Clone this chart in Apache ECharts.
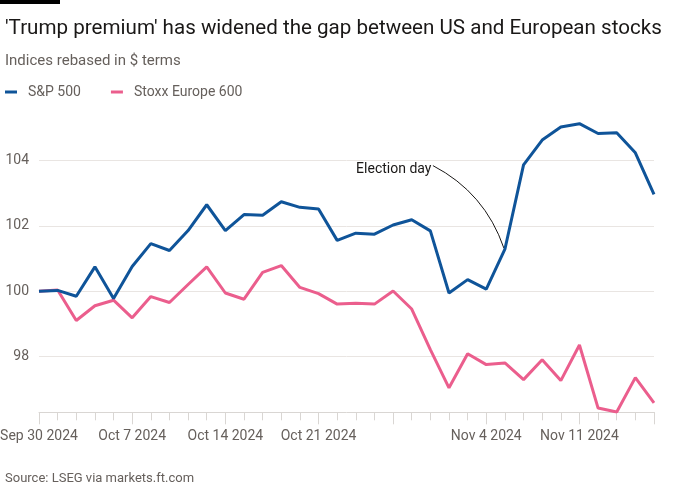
<!DOCTYPE html>
<html>
<head>
<meta charset="utf-8">
<script src="https://cdn.jsdelivr.net/npm/echarts@6/dist/echarts.min.js"></script>
<style>html,body{margin:0;padding:0;background:#fff}#c{width:700px;height:500px}</style>
</head>
<body>
<div id="c"></div>
<script>
const dates = ["Sep 30 2024","Oct 1 2024","Oct 2 2024","Oct 3 2024","Oct 4 2024",
  "Oct 7 2024","Oct 8 2024","Oct 9 2024","Oct 10 2024","Oct 11 2024",
  "Oct 14 2024","Oct 15 2024","Oct 16 2024","Oct 17 2024","Oct 18 2024",
  "Oct 21 2024","Oct 22 2024","Oct 23 2024","Oct 24 2024",
  "Oct 28 2024","Oct 29 2024","Oct 30 2024","Oct 31 2024","Nov 1 2024",
  "Nov 4 2024","Nov 5 2024","Nov 6 2024","Nov 7 2024","Nov 8 2024",
  "Nov 11 2024","Nov 12 2024","Nov 13 2024","Nov 14 2024","Nov 15 2024"];
const sp500 = [100.0,100.03,99.85,100.75,99.78,100.76,101.46,101.25,101.86,102.65,
  101.86,102.35,102.33,102.74,102.57,102.52,101.56,101.78,101.75,102.03,
  102.19,101.85,99.95,100.36,100.07,101.29,103.87,104.63,105.03,105.13,
  104.83,104.85,104.24,102.97];
const stoxx = [100.0,100.04,99.11,99.56,99.73,99.19,99.84,99.66,100.21,100.75,
  99.95,99.76,100.58,100.79,100.12,99.93,99.61,99.64,99.61,100.01,
  99.46,98.22,97.05,98.09,97.76,97.81,97.30,97.91,97.27,98.36,
  96.43,96.31,97.36,96.59];
const labelIdx = [0,5,10,15,24,29];
const majorTickIdx = [0,5,10,15,19,24,29,33];
const electionIdx = 25;
const seriesNames = ["S&P 500","Stoxx Europe 600"];

const FONT = "Roboto";
const GREY = "#66605c";
const chart = echarts.init(document.getElementById('c'), null, {renderer:'canvas'});
const option = {
  animation: false,
  textStyle: {fontFamily: FONT},
  title: [
    {text: "'Trump premium' has widened the gap between US and European stocks", left: 0, top: 13,
     textStyle: {fontFamily: FONT, fontSize: 20.6, fontWeight: 'normal', color: '#1a1817'}},
    {text: "Indices rebased in $ terms", left: 0, top: 49,
     textStyle: {fontFamily: FONT, fontSize: 15, fontWeight: 'normal', color: GREY}},
    {text: "Source: LSEG via markets.ft.com", left: 0, top: 467,
     textStyle: {fontFamily: FONT, fontSize: 13, fontWeight: 'normal', color: GREY}}
  ],
  legend: {
    left: 0, top: 80, itemWidth: 12, itemHeight: 3, itemGap: 30, icon: 'rect',
    data: seriesNames,
    textStyle: {fontFamily: FONT, fontSize: 14, color: GREY, padding: [0,0,0,6]}
  },
  grid: {left: 39, right: 46, top: 111.6, bottom: 87.7, containLabel: false, outerBoundsMode: 'none'},
  xAxis: [
    {type: 'category', data: dates, boundaryGap: false,
     axisLine: {lineStyle: {color: '#d9d6d3', width: 1}},
     axisTick: {show: true, interval: 0, length: 8, lineStyle: {color: '#d9d6d3'}},
     axisLabel: {show: false}, splitLine: {show: false}},
    {type: 'category', data: dates, boundaryGap: false, position: 'bottom',
     axisLine: {show: false},
     axisTick: {show: true, length: 12, interval: (i) => majorTickIdx.includes(i), lineStyle: {color: '#d9d6d3'}},
     axisLabel: {show: true, interval: (i) => labelIdx.includes(i), margin: 17,
       fontFamily: FONT, fontSize: 14, color: GREY},
     splitLine: {show: false}}
  ],
  yAxis: {
    type: 'value', min: 96.3, max: 105.5, splitNumber: 5,
    axisLine: {show: false}, axisTick: {show: false},
    axisLabel: {showMinLabel: false, showMaxLabel: false, margin: 10, fontFamily: FONT, fontSize: 14, color: GREY,
      formatter: (v) => Math.abs(v - Math.round(v)) < 1e-6 ? String(Math.round(v)) : ''},
    splitLine: {showMinLine: false, showMaxLine: false, lineStyle: {color: '#e9e5e2', width: 1}}
  },
  series: [
    {name: seriesNames[0], type: 'line', data: sp500, xAxisIndex: 0, showSymbol: false, symbol: 'none', z: 3,
     lineStyle: {color: '#0f5499', width: 3}, itemStyle: {color: '#0f5499'}},
    {name: seriesNames[1], type: 'line', data: stoxx, xAxisIndex: 0, showSymbol: false, symbol: 'none', z: 2,
     lineStyle: {color: '#eb5e8d', width: 3}, itemStyle: {color: '#eb5e8d'}}
  ]
};
chart.setOption(option);

// Election day annotation anchored to the data point
const p = chart.convertToPixel({xAxisIndex: 0, yAxisIndex: 0}, [electionIdx, sp500[electionIdx]]);
const end = [p[0] - 1, p[1] - 1];
const start = [end[0] - 71, end[1] - 82.6];
const ctrl = [end[0] - 19, end[1] - 55.5];
chart.setOption({
  graphic: [
    {type: 'rect', left: 0, top: 0, shape: {width: 60, height: 4}, style: {fill: '#000'}},
    {type: 'text', x: start[0] - 1.5, y: start[1] + 3.6,
     style: {text: 'Election day', fill: '#1a1817', font: '14px ' + FONT, textAlign: 'right', textVerticalAlign: 'middle'}},
    {type: 'bezierCurve', shape: {x1: start[0], y1: start[1], x2: end[0], y2: end[1], cpx1: ctrl[0], cpy1: ctrl[1]},
     style: {stroke: '#1a1817', lineWidth: 1, fill: null}}
  ]
});
</script>
</body>
</html>
